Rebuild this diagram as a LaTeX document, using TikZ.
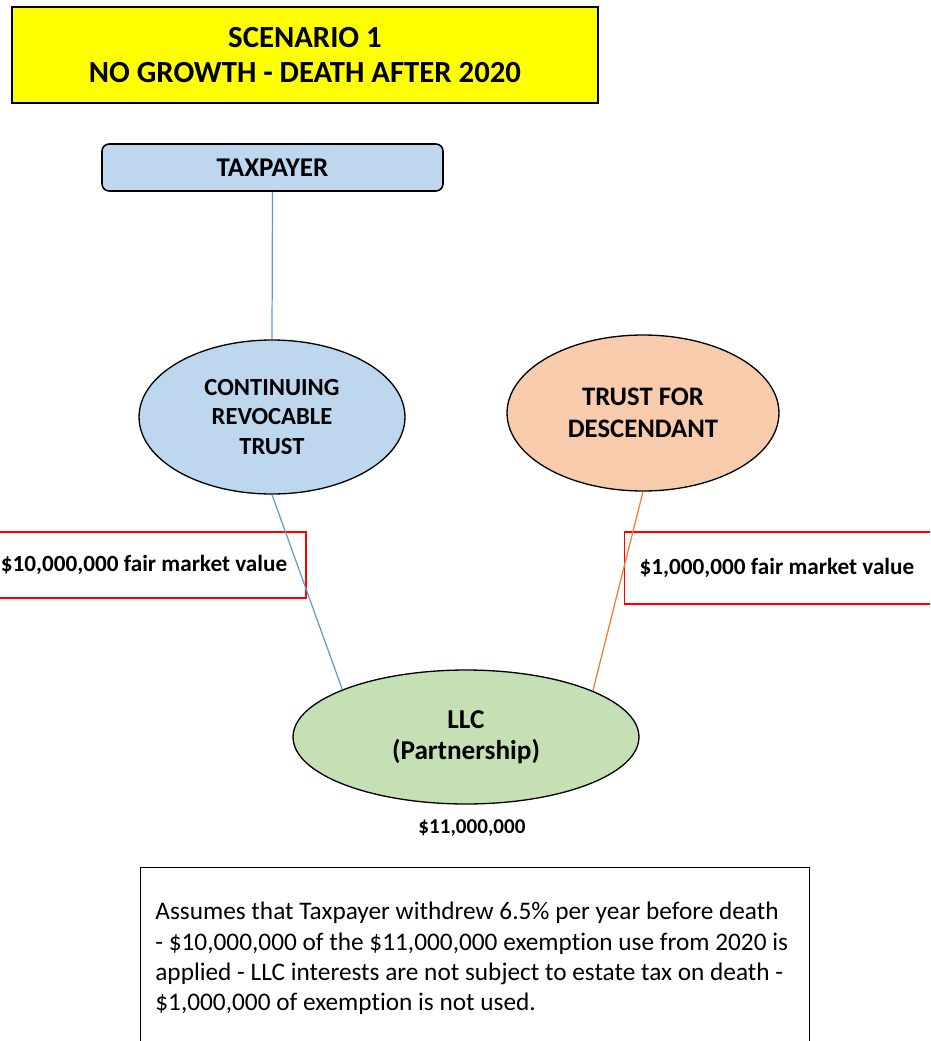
\documentclass[tikz,border=0pt]{standalone}
\usepackage{fontspec}
\setmainfont{Carlito}[Ligatures={NoCommon,NoRare}]
\usepackage{xcolor}
\usetikzlibrary{shapes.geometric}
\definecolor{titleyellow}{HTML}{FFFF00}
\definecolor{paleblue}{HTML}{BDD7EE}
\definecolor{peach}{HTML}{F8CBAD}
\definecolor{palegreen}{HTML}{C5E0B4}
\definecolor{lineblue}{HTML}{5B9BD5}
\definecolor{lineorange}{HTML}{ED7D31}

\begin{document}
\begin{tikzpicture}[x=0.02cm,y=-0.02cm,
  oval/.style={ellipse,draw=black,line width=0.75pt,align=center,font=\bfseries\fontsize{14}{17}\selectfont},
  valuebox/.style={draw=red,line width=0.75pt,font=\bfseries\fontsize{13.2}{16}\selectfont}]
  \useasboundingbox (0,0) rectangle (930,1041);
  \clip (0,0) rectangle (930,1041);
  % heading
  \node[draw,line width=0.8pt,fill=titleyellow,minimum width=11.72cm,minimum height=1.92cm,align=center,
    font=\bfseries\fontsize{17.5}{20}\selectfont] (title) at (305,55) {SCENARIO 1\\NO GROWTH - DEATH AFTER 2020};
  \node[draw,line width=0.9pt,rounded corners=4pt,fill=paleblue,minimum width=6.82cm,minimum height=0.94cm,
    font=\bfseries\fontsize{15.4}{18}\selectfont] (taxpayer) at (272.5,167.5) {TAXPAYER};
  % trusts and the LLC
  \node[oval,fill=paleblue,minimum width=5.32cm,minimum height=3.08cm] (crt) at (272,417) {CONTINUING\\REVOCABLE\\TRUST};
  \node[oval,fill=peach,minimum width=5.44cm,minimum height=3.12cm,font=\bfseries\fontsize{15.2}{18.5}\selectfont] (tfd) at (643,413) {TRUST FOR\\DESCENDANT};
  \node[oval,fill=palegreen,minimum width=6.92cm,minimum height=2.68cm,font=\bfseries\fontsize{15.5}{17.6}\selectfont] (llc) at (466,737) {LLC\\(Partnership)};
  \node[font=\bfseries\fontsize{12}{14}\selectfont] (llcvalue) at (472,828) {\$11,000,000};
  % values
  \node[valuebox,minimum width=6.48cm,minimum height=1.32cm] (crtvalue) at (144,565) {\$10,000,000 fair market value};
  \node[valuebox,anchor=west,inner xsep=0.3cm,minimum height=1.44cm] (tfdvalue) at (624,568) {\makebox[6.2cm][l]{\$1,000,000 fair market value}};
  \draw[lineblue,line width=0.7pt] (taxpayer.south) -- (crt.north);
  \draw[lineblue,line width=0.7pt] (crt.south) -- (llc.159);
  \draw[lineorange,line width=0.7pt] (tfd.south) -- (llc.20);
  % note
  \node[draw,line width=0.7pt,minimum width=13.38cm,minimum height=4cm,anchor=north west] (note) at (140,867) {};
  \node[anchor=north west,inner sep=0pt,align=left,font=\fontsize{14.4}{17.2}\selectfont] (notetext) at (155,902)
    {Assumes that Taxpayer withdrew 6.5\% per year before death\\
     - \$10,000,000 of the \$11,000,000 exemption use from 2020 is\\
     applied - LLC interests are not subject to estate tax on death -\\
     \$1,000,000 of exemption is not used.};
\end{tikzpicture}
\end{document}
